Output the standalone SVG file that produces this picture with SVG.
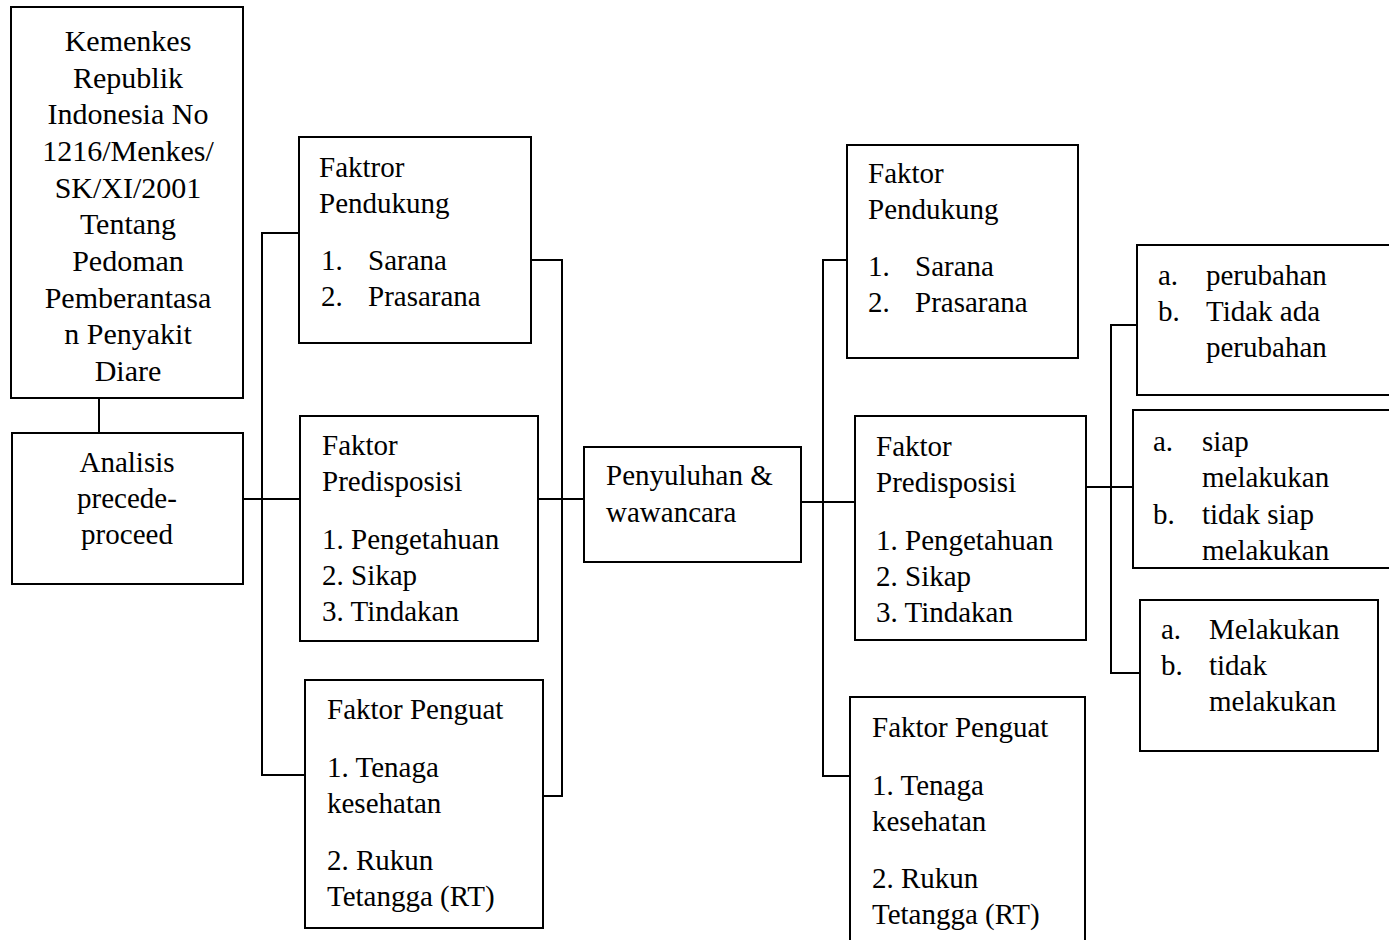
<svg xmlns="http://www.w3.org/2000/svg" width="1389" height="940" viewBox="0 0 1389 940">
<style>
.box{fill:#fff;stroke:#000;stroke-width:2}
.ln{fill:none;stroke:#000;stroke-width:2}
text{font-family:"Liberation Serif","Times New Roman",serif;font-size:29px;fill:#000}
.c{text-anchor:middle}
.big{font-size:30px}
</style>
<rect width="1389" height="940" fill="#fff"/>
<g id="connectors">
<line class="ln" x1="99" y1="398" x2="99" y2="433"/>
<polyline class="ln" points="299,233 262,233 262,775 305,775"/>
<line class="ln" x1="243" y1="499" x2="300" y2="499"/>
<polyline class="ln" points="531,260 562,260 562,796 543,796"/>
<line class="ln" x1="538" y1="499" x2="584" y2="499"/>
<polyline class="ln" points="847,260 823,260 823,776 850,776"/>
<line class="ln" x1="801" y1="502" x2="855" y2="502"/>
<polyline class="ln" points="1137,325 1111,325 1111,673 1140,673"/>
<line class="ln" x1="1086" y1="487" x2="1133" y2="487"/>
</g>
<g id="kemenkes">
<rect class="box" x="11" y="7" width="232" height="391"/>
<text class="c big" x="128"><tspan x="128" y="51">Kemenkes</tspan><tspan x="128" y="88">Republik</tspan><tspan x="128" y="124">Indonesia No</tspan><tspan x="128" y="161">1216/Menkes/</tspan><tspan x="128" y="198">SK/XI/2001</tspan><tspan x="128" y="234">Tentang</tspan><tspan x="128" y="271">Pedoman</tspan><tspan x="128" y="308">Pemberantasa</tspan><tspan x="128" y="344">n Penyakit</tspan><tspan x="128" y="381">Diare</tspan></text>
</g>
<g id="analisis">
<rect class="box" x="12" y="433" width="231" height="151"/>
<text class="c"><tspan x="127" y="472">Analisis</tspan><tspan x="127" y="508">precede-</tspan><tspan x="127" y="544">proceed</tspan></text>
</g>
<g id="pendukung1">
<rect class="box" x="299" y="137" width="232" height="206"/>
<text><tspan x="319" y="177">Faktror</tspan><tspan x="319" y="213">Pendukung</tspan></text>
<text><tspan x="321" y="270">1.</tspan><tspan x="368" y="270">Sarana</tspan></text>
<text><tspan x="321" y="306">2.</tspan><tspan x="368" y="306">Prasarana</tspan></text>
</g>
<g id="predisposisi1">
<rect class="box" x="300" y="416" width="238" height="225"/>
<text><tspan x="322" y="455">Faktor</tspan><tspan x="322" y="491">Predisposisi</tspan><tspan x="322" y="549">1. Pengetahuan</tspan><tspan x="322" y="585">2. Sikap</tspan><tspan x="322" y="621">3. Tindakan</tspan></text>
</g>
<g id="penguat1">
<rect class="box" x="305" y="680" width="238" height="248"/>
<text><tspan x="327" y="719">Faktor Penguat</tspan><tspan x="327" y="777">1. Tenaga</tspan><tspan x="327" y="813">kesehatan</tspan><tspan x="327" y="870">2. Rukun</tspan><tspan x="327" y="906">Tetangga (RT)</tspan></text>
</g>
<g id="penyuluhan">
<rect class="box" x="584" y="447" width="217" height="115"/>
<text><tspan x="606" y="485">Penyuluhan &amp;</tspan><tspan x="606" y="522">wawancara</tspan></text>
</g>
<g id="pendukung2">
<rect class="box" x="847" y="145" width="231" height="213"/>
<text><tspan x="868" y="183">Faktor</tspan><tspan x="868" y="219">Pendukung</tspan></text>
<text><tspan x="868" y="276">1.</tspan><tspan x="915" y="276">Sarana</tspan></text>
<text><tspan x="868" y="312">2.</tspan><tspan x="915" y="312">Prasarana</tspan></text>
</g>
<g id="predisposisi2">
<rect class="box" x="855" y="416" width="231" height="224"/>
<text><tspan x="876" y="456">Faktor</tspan><tspan x="876" y="492">Predisposisi</tspan><tspan x="876" y="550">1. Pengetahuan</tspan><tspan x="876" y="586">2. Sikap</tspan><tspan x="876" y="622">3. Tindakan</tspan></text>
</g>
<g id="penguat2">
<rect class="box" x="850" y="697" width="235" height="260"/>
<text><tspan x="872" y="737">Faktor Penguat</tspan><tspan x="872" y="795">1. Tenaga</tspan><tspan x="872" y="831">kesehatan</tspan><tspan x="872" y="888">2. Rukun</tspan><tspan x="872" y="924">Tetangga (RT)</tspan></text>
</g>
<g id="hasil1">
<rect class="box" x="1137" y="245" width="260" height="150"/>
<text><tspan x="1158" y="285">a.</tspan><tspan x="1206" y="285">perubahan</tspan></text>
<text><tspan x="1158" y="321">b.</tspan><tspan x="1206" y="321">Tidak ada</tspan></text>
<text><tspan x="1206" y="357">perubahan</tspan></text>
</g>
<g id="hasil2">
<rect class="box" x="1133" y="410" width="264" height="158"/>
<text><tspan x="1153" y="451">a.</tspan><tspan x="1202" y="451">siap</tspan></text>
<text><tspan x="1202" y="487">melakukan</tspan></text>
<text><tspan x="1153" y="524">b.</tspan><tspan x="1202" y="524">tidak siap</tspan></text>
<text><tspan x="1202" y="560">melakukan</tspan></text>
</g>
<g id="hasil3">
<rect class="box" x="1140" y="600" width="238" height="151"/>
<text><tspan x="1161" y="639">a.</tspan><tspan x="1209" y="639">Melakukan</tspan></text>
<text><tspan x="1161" y="675">b.</tspan><tspan x="1209" y="675">tidak</tspan></text>
<text><tspan x="1209" y="711">melakukan</tspan></text>
</g>
</svg>
